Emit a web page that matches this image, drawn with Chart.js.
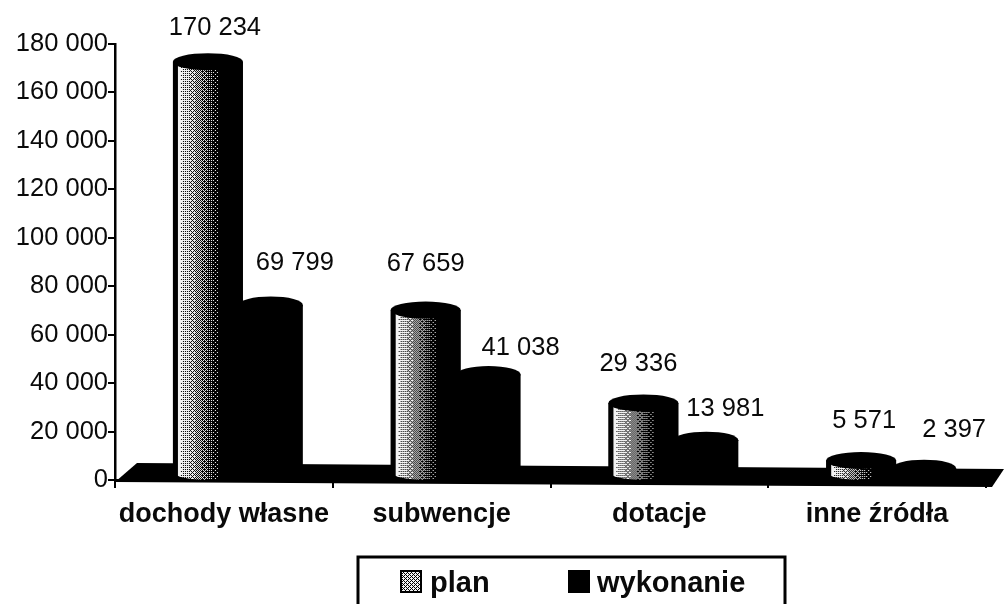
<!DOCTYPE html>
<html>
<head>
<meta charset="utf-8">
<style>
  html, body { margin: 0; padding: 0; background: #fff; }
  #wrap { width: 1004px; height: 604px; }
</style>
<script src="https://cdn.jsdelivr.net/npm/chart.js@4/dist/chart.umd.min.js"></script>
</head>
<body>
<div id="wrap"><canvas id="chart" width="1004" height="604"></canvas></div>
<script>
// values
const categories = ["dochody własne", "subwencje", "dotacje", "inne źródła"];
const plan = [170234, 67659, 29336, 5571];
const wykonanie = [69799, 41038, 13981, 2397];
const seriesNames = ["plan", "wykonanie"];

const fontName = "'Liberation Sans', Arial, sans-serif";
const ink = "#0a0a0a";

// label nudges from the bar centre, the labels were placed by hand in the original
const labelNudge = [
  [[7, -40], [0, -52], [-5, -45], [3, -46]],
  [[24, -48], [32, -33], [19, -37], [30, -44]],
];

const formatNum = (v) => String(v).replace(/\B(?=(\d{3})+$)/g, " ");

// bayer matrix for the scanned looking shading of the plan bars
const bayer = [[0, 8, 2, 10], [12, 4, 14, 6], [3, 11, 1, 9], [15, 7, 13, 5]];

function shade(t) {
  // black edge, light on the left of the cylinder, fading to black past the middle
  if (t < 0.07) return 0;
  if (t < 0.13) return 0.95;
  if (t < 0.68) return 0.8 * (1 - (t - 0.13) / 0.55);
  return 0;
}

function ditherCanvas(w, fn) {
  const c = document.createElement("canvas");
  c.width = w;
  c.height = 4;
  const g = c.getContext("2d");
  for (let x = 0; x < w; x++) {
    for (let y = 0; y < 4; y++) {
      const on = fn(x / w) > (bayer[y][x % 4] + 0.5) / 16;
      g.fillStyle = on ? "#f2f2f2" : "#000";
      g.fillRect(x, y, 1, 1);
    }
  }
  return c;
}

const cylinderPlugin = {
  id: "cylinders",
  beforeDatasetsDraw(chart) {
    const { ctx, scales } = chart;
    const yZero = scales.y.getPixelForValue(0);
    const left = scales.x.left;
    const right = scales.x.right;

    // floor of the 3d chart
    ctx.save();
    ctx.fillStyle = "#000";
    ctx.beginPath();
    ctx.moveTo(left, yZero + 2);
    ctx.lineTo(left + 22, yZero - 17);
    ctx.lineTo(right + 18, yZero - 11);
    ctx.lineTo(right + 6, yZero + 7);
    ctx.closePath();
    ctx.fill();
    ctx.restore();

    // back series goes first so plan sits in front
    [1, 0].forEach((d) => {
      const bars = chart.getDatasetMeta(d).data;
      bars.forEach((bar) => {
        drawCylinder(ctx, bar, d, yZero);
      });
    });

    drawLabels(chart);
    return false;
  },
  afterDraw(chart) {
    drawLegend(chart);
  },
};

function drawCylinder(ctx, bar, d, yZero) {
  const cx = bar.x + 15.5;
  const rx = d === 0 ? 35 : 32;
  const ry = 8.5;
  const top = bar.y - 6;
  const base = yZero - 8.5;
  const x0 = cx - rx;

  ctx.save();
  ctx.beginPath();
  ctx.moveTo(x0, top);
  ctx.lineTo(x0, base);
  ctx.ellipse(cx, base, rx, ry, 0, Math.PI, 0, true);
  ctx.lineTo(cx + rx, top);
  ctx.closePath();
  ctx.fillStyle = "#000";
  ctx.fill();
  if (d === 0) {
    const pat = ctx.createPattern(ditherCanvas(rx * 2, shade), "repeat");
    pat.setTransform(new DOMMatrix().translate(x0, 0));
    ctx.clip();
    ctx.fillStyle = pat;
    ctx.fillRect(x0, top, rx * 2, base + ry - top);
  }
  ctx.restore();

  // top of the cylinder
  ctx.fillStyle = "#000";
  ctx.beginPath();
  ctx.ellipse(cx, top, rx, ry, 0, 0, Math.PI * 2);
  ctx.fill();
}

function drawLabels(chart) {
  const { ctx } = chart;
  ctx.save();
  ctx.font = "25.5px " + fontName;
  ctx.fillStyle = ink;
  ctx.textAlign = "center";
  ctx.textBaseline = "middle";
  chart.data.datasets.forEach((ds, d) => {
    chart.getDatasetMeta(d).data.forEach((bar, i) => {
      const n = labelNudge[d][i];
      ctx.fillText(formatNum(ds.data[i]), bar.x + 15.5 + n[0], bar.y + n[1]);
    });
  });
  ctx.restore();
}

// frame runs off the bottom of the picture, so the legend is drawn here
function drawLegend(chart) {
  const { ctx } = chart;
  ctx.save();
  ctx.strokeStyle = "#000";
  ctx.lineWidth = 3;
  ctx.beginPath();
  ctx.moveTo(358, 604);
  ctx.lineTo(358, 557);
  ctx.lineTo(785, 557);
  ctx.lineTo(785, 604);
  ctx.stroke();

  // plan swatch
  ctx.fillStyle = ctx.createPattern(ditherCanvas(4, () => 0.6), "repeat");
  ctx.fillRect(401, 571, 20, 21);
  ctx.lineWidth = 2;
  ctx.strokeRect(401, 571, 20, 21);
  // wykonanie swatch
  ctx.fillStyle = "#000";
  ctx.fillRect(568, 570, 22, 23);

  ctx.fillStyle = ink;
  ctx.font = "bold 29px " + fontName;
  ctx.textBaseline = "middle";
  ctx.fillText(seriesNames[0], 430, 584);
  ctx.fillText(seriesNames[1], 597, 584);
  ctx.restore();
}

new Chart(document.getElementById("chart"), {
  type: "bar",
  data: {
    labels: categories,
    datasets: [
      { label: seriesNames[0], data: plan, backgroundColor: "#bbb" },
      { label: seriesNames[1], data: wykonanie, backgroundColor: "#000" },
    ],
  },
  options: {
    responsive: false,
    animation: false,
    layout: { padding: { top: 44, right: 18, left: 0, bottom: 0 } },
    datasets: { bar: { categoryPercentage: 0.578, barPercentage: 1 } },
    scales: {
      y: {
        min: 0,
        max: 180000,
        afterFit(s) { s.width = 115; },
        ticks: {
          stepSize: 20000,
          color: ink,
          padding: 0,
          font: { family: fontName, size: 25.5 },
          callback: (v) => formatNum(v),
        },
        border: { color: "#000", width: 2.5 },
        grid: { drawOnChartArea: false, color: "#000", lineWidth: 2, tickLength: 7 },
      },
      x: {
        afterFit(s) { s.height = 124; },
        ticks: {
          color: ink,
          padding: 10,
          maxRotation: 0,
          font: { family: fontName, size: 27, weight: "bold" },
        },
        border: { color: "#000", width: 2 },
        grid: { drawOnChartArea: false, color: "#000", lineWidth: 2, tickLength: 8 },
      },
    },
    plugins: {
      tooltip: { enabled: false },
      legend: { display: false },
    },
  },
  plugins: [cylinderPlugin],
});
</script>
</body>
</html>
